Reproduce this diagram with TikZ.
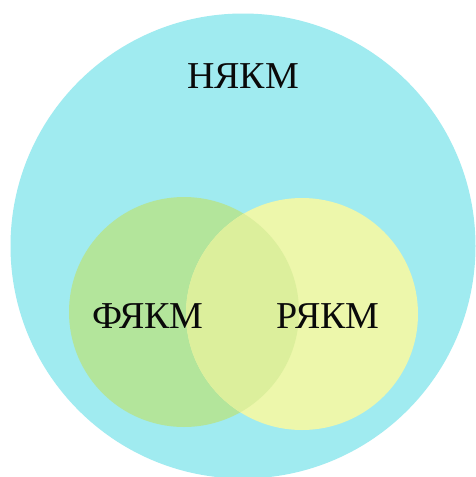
\documentclass[tikz,border=0pt]{standalone}
\usepackage{fontspec}
\setmainfont{Liberation Serif}
\usepackage{xcolor,tikz}
\usetikzlibrary{positioning}
\definecolor{sky}{HTML}{A0EBF0}
\definecolor{leaf}{HTML}{B3E59B}
\definecolor{lemon}{HTML}{EDF7AB}
\definecolor{both}{HTML}{DCEF9C}
\definecolor{ink}{HTML}{0A0A0A}

\begin{document}
\begin{tikzpicture}[x=1pt,y=-1pt,
 c/.style={circle,inner sep=0pt},
 t/.style={font=\fontsize{38}{42}\selectfont,text=ink,anchor=base}]
 \useasboundingbox (0,0) rectangle (475,477);
 \fill[white] (0,0) rectangle (475,477);
 \node[c,fill=sky,minimum size=465pt] (n) at (243,246) {};
 \node[c,fill=leaf,minimum size=230pt] (f) at (184,312) {};
 \node[c,fill=lemon,minimum size=232pt] (r) at (302,314) {};
 \begin{scope}
  \clip (f.center) circle (115);
  \fill[both] (r.center) circle (116);
 \end{scope}
 \node[t] (nt) at (243,88) {НЯКМ};
 \node[t] (ft) at (148,328) {ФЯКМ};
 \node[t] (rt) at (328,328) {РЯКМ};
\end{tikzpicture}
\end{document}
